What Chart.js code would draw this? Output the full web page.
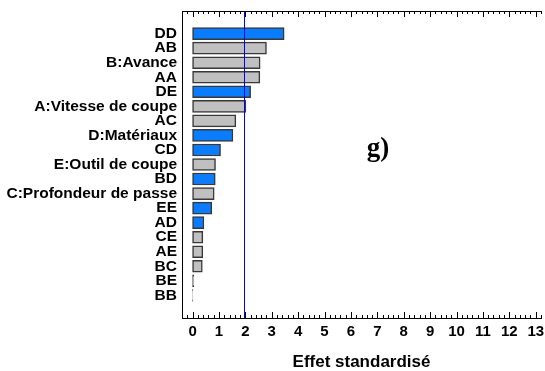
<!DOCTYPE html>
<html>
<head>
<meta charset="utf-8">
<script src="https://cdn.jsdelivr.net/npm/chart.js@4/dist/chart.umd.min.js"></script>
<style>
  html, body { margin: 0; padding: 0; background: #fff; }
  #wrap { width: 545px; height: 371px; position: relative; }
</style>
</head>
<body>
<div id="wrap"><canvas id="c"></canvas></div>
<script>
// Effects (top to bottom), standardized effect values, and sign (+ gray, - blue)
const effectLabels = ['DD','AB','B:Avance','AA','DE','A:Vitesse de coupe','AC','D:Matériaux','CD',
  'E:Outil de coupe','BD','C:Profondeur de passe','EE','AD','CE','AE','BC','BE','BB'];
const effectValues = [3.47, 2.80, 2.56, 2.55, 2.20, 2.02, 1.64, 1.53, 1.06,
  0.87, 0.86, 0.82, 0.73, 0.43, 0.39, 0.39, 0.37, 0.05, 0.01];
const effectSigns = ['-','+','+','+','-','+','+','-','-',
  '+','-','+','-','-','+','+','+','+','+'];
const xTickValues = [0,1,2,3,4,5,6,7,8,9,10,11,12,13];
const criticalValue = 1.96;
const panelLabel = 'g)';
const xTitle = 'Effet standardisé';

const BLUE = '#0A7DFF';
const GRAY = '#C0C0C0';

const points = effectValues.map((v, i) => ({ x: v, y: i }));

const extras = {
  id: 'extras',
  afterDraw(chart) {
    const { ctx, chartArea: a, scales: { x } } = chart;
    ctx.save();
    const top = Math.round(a.top);
    const bottom = Math.round(a.bottom);
    ctx.fillStyle = '#000000';
    // top frame line
    ctx.fillRect(Math.round(a.left), top, Math.round(a.right - a.left), 1);
    // inward ticks on top and bottom (minor every 0.2, major every 1)
    const start = Math.ceil(x.min / 0.2 - 1e-9);
    const end = Math.floor(x.max / 0.2 + 1e-9);
    for (let k = start; k <= end; k++) {
      const v = k * 0.2;
      const major = Math.abs(v - Math.round(v)) < 1e-6;
      const len = major ? 6 : 3;
      const px = Math.round(x.getPixelForValue(v));
      ctx.fillRect(px, bottom - len, 1, len);
      ctx.fillRect(px, top, 1, len);
    }
    // critical value line
    const cx = Math.round(x.getPixelForValue(criticalValue));
    ctx.fillStyle = '#0000FF';
    ctx.fillRect(cx, top + 1, 1, bottom - top - 1);
    // panel label
    ctx.fillStyle = '#000';
    ctx.font = 'bold 27px "Liberation Serif", "Times New Roman", serif';
    ctx.textAlign = 'left';
    ctx.textBaseline = 'alphabetic';
    ctx.fillText(panelLabel, x.getPixelForValue(6.6), 156);
    ctx.restore();
  }
};

new Chart(document.getElementById('c'), {
  type: 'bar',
  data: {
    datasets: [{
      data: points,
      backgroundColor: effectSigns.map(s => s === '-' ? BLUE : GRAY),
      borderColor: '#383838',
      borderWidth: 1.5,
      borderSkipped: false,
      barThickness: 12
    }]
  },
  options: {
    indexAxis: 'y',
    responsive: true,
    maintainAspectRatio: false,
    animation: false,
    layout: { padding: { top: 11, right: 4, left: 0, bottom: 0 } },
    plugins: { legend: { display: false }, tooltip: { enabled: false } },
    scales: {
      x: {
        type: 'linear', position: 'bottom', min: -0.4, max: 13.2,
        afterBuildTicks: (s) => { s.ticks = xTickValues.map(v => ({ value: v })); },
        afterFit: (s) => { s.height = 53; s.paddingLeft = 0; s.paddingRight = 0; },
        grid: { display: false, drawTicks: false },
        border: { display: true, color: '#000', width: 1 },
        ticks: { autoSkip: false, maxRotation: 0, padding: 5, color: '#000',
          font: { family: '"Liberation Sans", Arial, sans-serif', size: 15, weight: 'bold' } },
        title: { display: true, text: xTitle, color: '#000', padding: { top: 0, bottom: 0 },
          font: { family: '"Liberation Sans", Arial, sans-serif', size: 17, weight: 'bold', lineHeight: 1 } }
      },
      y: {
        type: 'linear', reverse: true, min: -1, max: effectLabels.length,
        afterBuildTicks: (s) => { s.ticks = effectLabels.map((_, i) => ({ value: i })); },
        afterFit: (s) => { s.width = 182; s.paddingTop = 0; s.paddingBottom = 0; },
        grid: { display: false, drawTicks: false },
        border: { display: true, color: '#000', width: 1 },
        ticks: { autoSkip: false, padding: 5, color: '#000', callback: (v) => effectLabels[v] ?? '',
          font: { family: '"Liberation Sans", Arial, sans-serif', size: 15.5, weight: 'bold' } }
      }
    }
  },
  plugins: [extras]
});
</script>
</body>
</html>
